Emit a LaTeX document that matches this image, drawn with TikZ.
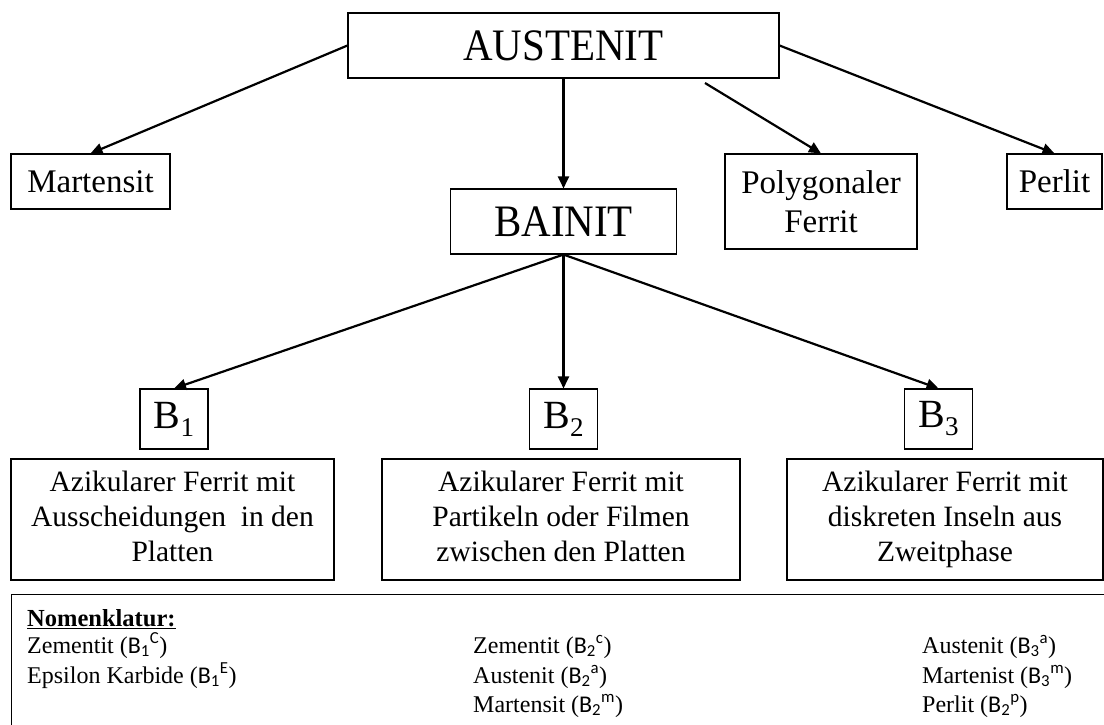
\documentclass[tikz,border=0pt]{standalone}
\usepackage{fontspec}
\setmainfont{Liberation Serif}
\setsansfont{Carlito}
\newfontfamily\condfont[FakeStretch=0.91]{Liberation Serif}
\usepackage{tikz}
\usetikzlibrary{arrows.meta,positioning}
\newcommand{\bsub}[1]{B\raisebox{-8pt}{\fontsize{27}{27}\selectfont #1}}
\newcommand{\nom}[2]{({\sffamily B\textsubscript{#1}\textsuperscript{#2}})}
\newcommand{\topstrut}{\rule{0pt}{29pt}}
\newcommand{\botstrut}{\rule[-7pt]{0pt}{7pt}}

\begin{document}
\begin{tikzpicture}[x=1pt, y=-1pt,
  bx/.style={draw, line width=1.1pt, inner sep=0pt, align=center},
  hd/.style={bx, font=\condfont\fontsize{45}{50}\selectfont, minimum height=65pt},
  mid/.style={bx, font=\fontsize{33}{39}\selectfont},
  desc/.style={bx, font=\fontsize{29.5}{35}\selectfont, minimum height=121pt,
               execute at begin node=\topstrut, execute at end node=\botstrut},
  bb/.style={bx, font=\fontsize{40}{44}\selectfont, minimum width=68pt, minimum height=60pt},
  nm/.style={anchor=base west, inner sep=0pt, font=\fontsize{24}{29}\selectfont},
  arr/.style={-{Triangle[length=12pt,width=11pt]}, line width=2.2pt}
]
\useasboundingbox (0,0) rectangle (1104,724);
\node[hd, minimum width=431pt] (aus) at (563.5,45.5) {AUSTENIT};
\node[mid, minimum width=159pt, minimum height=55pt] (mart) at (90.5,181.5) {Martensit};
\node[hd, minimum width=226pt] (bain) at (563.5,221.5) {BAINIT};
\node[mid, minimum width=192pt, minimum height=95pt] (poly) at (821,201.5) {Polygonaler\\Ferrit};
\node[mid, minimum width=95pt, minimum height=55pt] (perl) at (1054.5,181.5) {Perlit};
\coordinate (pstart) at (705,83);
\node[bb] (b1) at (174,419) {\bsub{1}};
\node[bb] (b2) at (563.5,419) {\bsub{2}};
\node[bb] (b3) at (938.5,419) {\bsub{3}};
\node[desc, minimum width=323pt] (d1) at (172.5,519.5) {Azikularer Ferrit mit\\Ausscheidungen\ \ in den\\Platten};
\node[desc, minimum width=358pt] (d2) at (561,519.5) {Azikularer Ferrit mit\\Partikeln oder Filmen\\zwischen den Platten};
\node[desc, minimum width=316pt] (d3) at (945,519.5) {Azikularer Ferrit mit\\diskreten Inseln aus\\Zweitphase};
\node[bx, anchor=north west, minimum width=1110pt, minimum height=150pt] (nomen) at (11,594) {};
\node[nm, font=\fontsize{24.5}{29}\selectfont\bfseries] (nk) at (27,626) {\underline{Nomenklatur:}};
\node[nm] (n11) at (27,653) {Zementit \nom{1}{C}};
\node[nm] (n12) at (27,683) {Epsilon Karbide \nom{1}{E}};
\node[nm] (n21) at (473,653) {Zementit \nom{2}{c}};
\node[nm] (n22) at (473,683) {Austenit \nom{2}{a}};
\node[nm] (n23) at (473,712) {Martensit \nom{2}{m}};
\node[nm] (n31) at (922,653) {Austenit \nom{3}{a}};
\node[nm] (n32) at (922,683) {Martenist \nom{3}{m}};
\node[nm] (n33) at (922,712) {Perlit \nom{2}{p}};
\draw[arr] (aus.west)--(mart.north);
\draw[arr] (aus.south)--(bain.north);
\draw[arr] (pstart)--(poly.north);
\draw[arr] (aus.east)--(perl.north);
\draw[arr] (bain.south)--(b1.north);
\draw[arr] (bain.south)--(b2.north);
\draw[arr] (bain.south)--(b3.north);
\end{tikzpicture}
\end{document}
